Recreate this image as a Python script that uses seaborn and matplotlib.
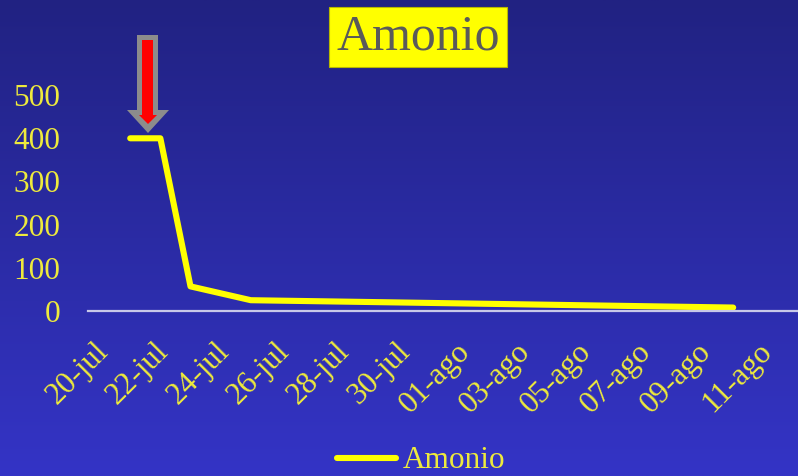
import numpy as np
import pandas as pd
import matplotlib
matplotlib.use("Agg")
import matplotlib.pyplot as plt
from matplotlib.patches import Polygon
from matplotlib.lines import Line2D
from matplotlib.transforms import ScaledTranslation
import seaborn as sns

# Ammonium readings (mg/L) by sampling date
fechas = ["2009-07-21", "2009-07-22", "2009-07-23", "2009-07-25", "2009-08-10"]
amonio = [400, 400, 57, 25, 8]
serie = "Amonio"

tick_fechas = pd.date_range("2009-07-20", "2009-08-11", freq="2D")
tick_labels = ["20-jul", "22-jul", "24-jul", "26-jul", "28-jul", "30-jul",
               "01-ago", "03-ago", "05-ago", "07-ago", "09-ago", "11-ago"]
y_ticks = [0, 100, 200, 300, 400, 500]

df = pd.DataFrame({"fecha": pd.to_datetime(fechas), "valor": amonio, "serie": serie})

sns.set_style("white")
plt.rcParams["font.family"] = ["Liberation Serif", "DejaVu Serif"]

W, H = 798, 476
fig = plt.figure(figsize=(W / 100, H / 100), dpi=100)

# vertical blue gradient behind everything
bg = fig.add_axes([0, 0, 1, 1], zorder=-10)
top = np.array([33, 34, 130]) / 255
bot = np.array([52, 52, 198]) / 255
t = np.linspace(0, 1, 256)[:, None]
grad = top * (1 - t) + bot * t
bg.imshow(np.repeat(grad[:, None, :], 2, axis=1), aspect="auto", extent=[0, 1, 0, 1])
bg.set_axis_off()

px = lambda x, y: (x / W, 1 - y / H)

ax = fig.add_axes([88 / W, 165 / H, 710 / W, 231 / H], zorder=1)
ax.set_facecolor("none")

yellow = "#FFFF00"
label_col = "#EEEA3C"

sns.lineplot(data=df, x="fecha", y="valor", hue="serie", palette=[yellow],
             linewidth=4.4, ax=ax, legend=False, solid_capstyle="round",
             solid_joinstyle="round")

x0 = pd.Timestamp("2009-07-20")
ax.set_xlim(x0 - pd.Timedelta(days=0.4), x0 + pd.Timedelta(days=23.15))
ax.set_ylim(0, 535)

ax.set_xticks(tick_fechas)
ax.set_xticklabels(tick_labels, rotation=45, ha="right", va="center",
                   rotation_mode="anchor")
ax.set_yticks(y_ticks)
ax.set_yticklabels([str(v) for v in y_ticks])
ax.tick_params(axis="x", length=0, pad=26, labelsize=22.5, labelcolor=label_col)
ax.tick_params(axis="y", length=0, pad=20, labelsize=22.5, labelcolor=label_col)
shift = ScaledTranslation(3 / 72, 0, fig.dpi_scale_trans)
for lab in ax.get_xticklabels():
    lab.set_transform(lab.get_transform() + shift)
ax.set_xlabel("")
ax.set_ylabel("")
ax.grid(False)
for s in ("left", "top", "right"):
    ax.spines[s].set_visible(False)
ax.spines["bottom"].set_color("#C8C8E8")
ax.spines["bottom"].set_linewidth(1.6)

# title in a yellow box
fig.text(*px(418, 37), "Amonio", ha="center", va="center", fontsize=36,
         color="#5A5A5A",
         bbox=dict(boxstyle="square,pad=0.14", facecolor=yellow,
                   edgecolor="#B8B800", linewidth=0.8))

# red downward arrow with grey outline
outer = [px(137, 35), px(158, 35), px(158, 110), px(169, 110), px(148, 133),
         px(127, 110), px(137, 110)]
inner = [px(142, 40), px(153, 40), px(153, 115), px(157, 115), px(148, 124),
         px(139, 115), px(142, 115)]
fig.patches.append(Polygon(outer, closed=True, transform=fig.transFigure,
                           facecolor="#8C8C8C", edgecolor="none", zorder=5))
fig.patches.append(Polygon(inner, closed=True, transform=fig.transFigure,
                           facecolor="#FF0000", edgecolor="none", zorder=6))

# legend below the axis
handle = Line2D([], [], color=yellow, linewidth=4.4, solid_capstyle="round")
leg = fig.legend([handle], [serie], loc="center", bbox_to_anchor=px(421, 461),
                 frameon=False, fontsize=22.5, handlelength=1.9, handletextpad=0.2)
for txt in leg.get_texts():
    txt.set_color(label_col)

fig.savefig("out.png", dpi=100)
